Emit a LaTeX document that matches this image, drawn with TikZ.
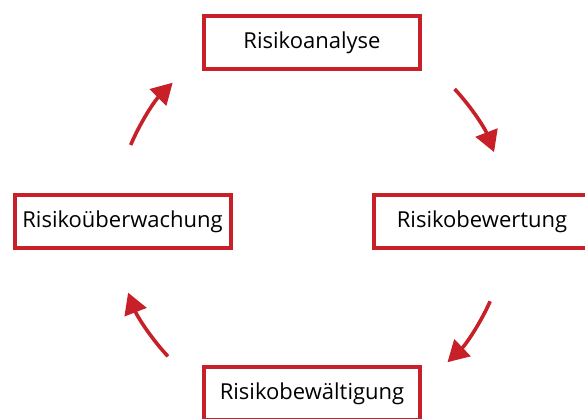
\documentclass[tikz,border=0pt]{standalone}
\usepackage{fontspec}
\setmainfont{Open Sans}
\usetikzlibrary{arrows.meta}
\definecolor{riskred}{RGB}{200,32,40}

\tikzset{
  riskbox/.style={draw=riskred,line width=4pt,fill=white,minimum width=216pt,minimum height=53pt,inner sep=0pt,font=\fontsize{22}{24}\selectfont},
  cycle/.style={draw=riskred,line width=3.6pt,-{Triangle[length=21pt,width=23pt]}}
}

\begin{document}
\begin{tikzpicture}[x=1pt,y=1pt]
\useasboundingbox (0,0) rectangle (585,419);
\clip (0,0) rectangle (585,419);

\node[riskbox] (analyse) at (312,376.5) {Risikoanalyse};
\node[riskbox] (bewertung) at (482,197.5) {Risikobewertung};
\node[riskbox] (bewaeltigung) at (312,25.5) {Risikobewältigung};
\node[riskbox] (ueberwachung) at (122.5,197) {Risikoüberwachung};

\coordinate (mitte) at (312,197);

\draw[cycle] ([shift={(43:195)}]mitte) arc[start angle=43,end angle=21,radius=195];
\draw[cycle] ([shift={(-24:195)}]mitte) arc[start angle=-24,end angle=-46,radius=195];
\draw[cycle] ([shift={(223:197)}]mitte) arc[start angle=223,end angle=201,radius=197];
\draw[cycle] ([shift={(157:197)}]mitte) arc[start angle=157,end angle=135,radius=197];
\end{tikzpicture}
\end{document}
